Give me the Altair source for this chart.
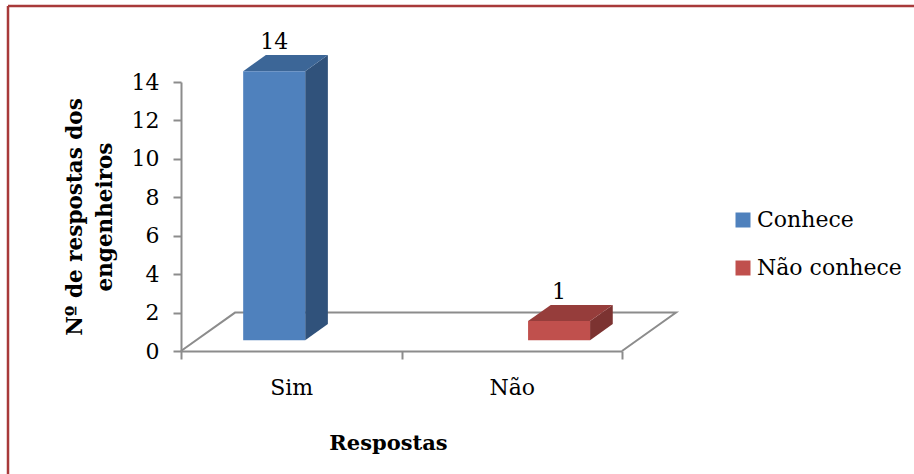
import altair as alt
import pandas as pd

# Survey answers per category and series
categories = ["Sim", "Não"]
series = ["Conhece", "Não conhece"]
conhece = [14, 0]
nao_conhece = [0, 1]

front_colors = ["#4f81bd", "#c0504d"]
top_colors = ["#3c6697", "#963d3b"]
side_colors = ["#30527b", "#7c3331"]

# Oblique 3-D layout in data units (x: category units, y: value units)
DEPTH_X = 0.245      # floor depth, horizontal shift
DEPTH_Y = 2.0        # floor depth, vertical shift
SLOT = 0.146         # offset of each series slot from the category centre
HALF = 0.1406        # half bar width
F0, F1 = 0.28, 0.70  # bar front / back depth as a fraction of the floor depth

FONT = "DejaVu Serif"
GRAY = "#8c8c8c"

rows = []
for i, cat in enumerate(categories):
    for j, (name, vals) in enumerate(zip(series, [conhece, nao_conhece])):
        v = vals[i]
        if v <= 0:
            continue
        cx = i + 0.5 + (SLOT if j else -SLOT)
        xl = cx - HALF + F0 * DEPTH_X
        xr = cx + HALF + F0 * DEPTH_X
        ddx = (F1 - F0) * DEPTH_X
        rows.append(dict(
            cat=cat, serie=name, value=v, key=f"{cat}-{name}",
            xl=xl, xr=xr, xm=(xl + xr) / 2, ddx=ddx,
            y0=F0 * DEPTH_Y, y1=v + F0 * DEPTH_Y,
            yb0=F1 * DEPTH_Y, yb1=v + F1 * DEPTH_Y,
            top=top_colors[j], side=side_colors[j],
        ))
bars = pd.DataFrame(rows)

# Side faces: two vertical edges per bar
side_rows = []
for r in rows:
    side_rows.append(dict(key=r["key"], x=r["xr"], y=r["y1"], y2=r["y0"], c=r["side"]))
    side_rows.append(dict(key=r["key"], x=r["xr"] + r["ddx"], y=r["yb1"], y2=r["yb0"], c=r["side"]))
sides = pd.DataFrame(side_rows)

# Top faces: two horizontal edges per bar
top_rows = []
for r in rows:
    top_rows.append(dict(key=r["key"], y=r["y1"], x=r["xl"], x2=r["xr"], c=r["top"]))
    top_rows.append(dict(key=r["key"], y=r["yb1"], x=r["xl"] + r["ddx"], x2=r["xr"] + r["ddx"], c=r["top"]))
tops = pd.DataFrame(top_rows)

n = len(categories)
floor = pd.DataFrame({
    "x": [0, DEPTH_X, n + DEPTH_X, n],
    "y": [0, DEPTH_Y, DEPTH_Y, 0],
    "o": [0, 1, 2, 3],
})

label_expr = " : ".join(
    f"datum.value == {i + 0.5} ? '{c}'" for i, c in enumerate(categories)
) + " : ''"

xscale = alt.Scale(domain=[0, n], nice=False, zero=False)
yscale = alt.Scale(domain=[0, 14], nice=False)

x_axis = alt.Axis(
    values=[k * 0.5 for k in range(2 * n + 1)],
    labelExpr=label_expr, labelOverlap=False,
    grid=False, domainColor=GRAY, domainWidth=2,
    tickColor=GRAY, tickWidth=2, tickSize=8,
    tickOpacity={"condition": {"test": "datum.value % 1 !== 0", "value": 0}, "value": 1},
    labelFont=FONT, labelFontSize=22, labelColor="black", labelPadding=18,
    title="Respostas", titleFont=FONT, titleFontSize=21, titleFontWeight="bold",
    titleColor="black", titleX=207, titleY=92, titleBaseline="middle",
)
y_axis = alt.Axis(
    values=list(range(0, 15, 2)), labelOverlap=False, labelBound=False, labelFlush=False,
    grid=False, domainColor=GRAY, domainWidth=2,
    tickColor=GRAY, tickWidth=2, tickSize=8,
    labelFont=FONT, labelFontSize=22, labelColor="black", labelPadding=14,
    title=["Nº de respostas dos", "engenheiros"], titleFont=FONT, titleFontSize=21.5,
    titleFontWeight="bold", titleColor="black", titleLineHeight=30, titlePadding=15,
)


def X(field):
    return alt.X(field, scale=xscale, axis=x_axis)


def Y(field):
    return alt.Y(field, scale=yscale, axis=y_axis)


floor_layer = alt.Chart(floor).mark_line(color=GRAY, strokeWidth=2).encode(
    x=X("x:Q"), y=Y("y:Q"), order="o:Q",
)

side_layer = alt.Chart(sides).mark_area().encode(
    x=X("x:Q"), y=Y("y:Q"), y2="y2:Q", detail="key:N",
    fill=alt.Fill("c:N", scale=None),
)

top_layer = alt.Chart(tops).mark_area(orient="horizontal").encode(
    y=Y("y:Q"), x=X("x:Q"), x2="x2:Q", detail="key:N",
    fill=alt.Fill("c:N", scale=None),
)

front_layer = alt.Chart(bars).mark_rect().encode(
    x=X("xl:Q"), x2="xr:Q", y=Y("y0:Q"), y2="y1:Q",
    color=alt.Color(
        "serie:N",
        scale=alt.Scale(domain=series, range=front_colors),
        legend=alt.Legend(
            title=None, orient="none", legendX=551, legendY=127,
            symbolType="square", symbolSize=225, symbolStrokeWidth=0,
            labelFont=FONT, labelFontSize=22, labelColor="black",
            labelOffset=3, rowPadding=26, padding=0,
        ),
    ),
)

value_labels = alt.Chart(bars).mark_text(
    font=FONT, fontSize=22, color="black", baseline="bottom", dy=-1
).encode(x=X("xm:Q"), y=Y("yb1:Q"), text="value:Q")

frame_src = pd.DataFrame({"k": [0]})
frame_left = alt.Chart(frame_src).mark_rule(color="#a83a3a", strokeWidth=2.5).encode(
    x=alt.value(-173), y=alt.value(-76), y2=alt.value(420)
)
frame_top = alt.Chart(frame_src).mark_rule(color="#a83a3a", strokeWidth=2.5).encode(
    x=alt.value(-173), x2=alt.value(760), y=alt.value(-76)
)

chart = alt.layer(
    floor_layer, side_layer, top_layer, front_layer, value_labels, frame_left, frame_top
).properties(
    width=441, height=269,
    autosize=alt.AutoSizeParams(type="none"),
    padding={"left": 181, "top": 82, "right": 292, "bottom": 123},
).configure_view(stroke=None)

chart.save("out.html", embed_options={"renderer": "svg", "actions": False})
